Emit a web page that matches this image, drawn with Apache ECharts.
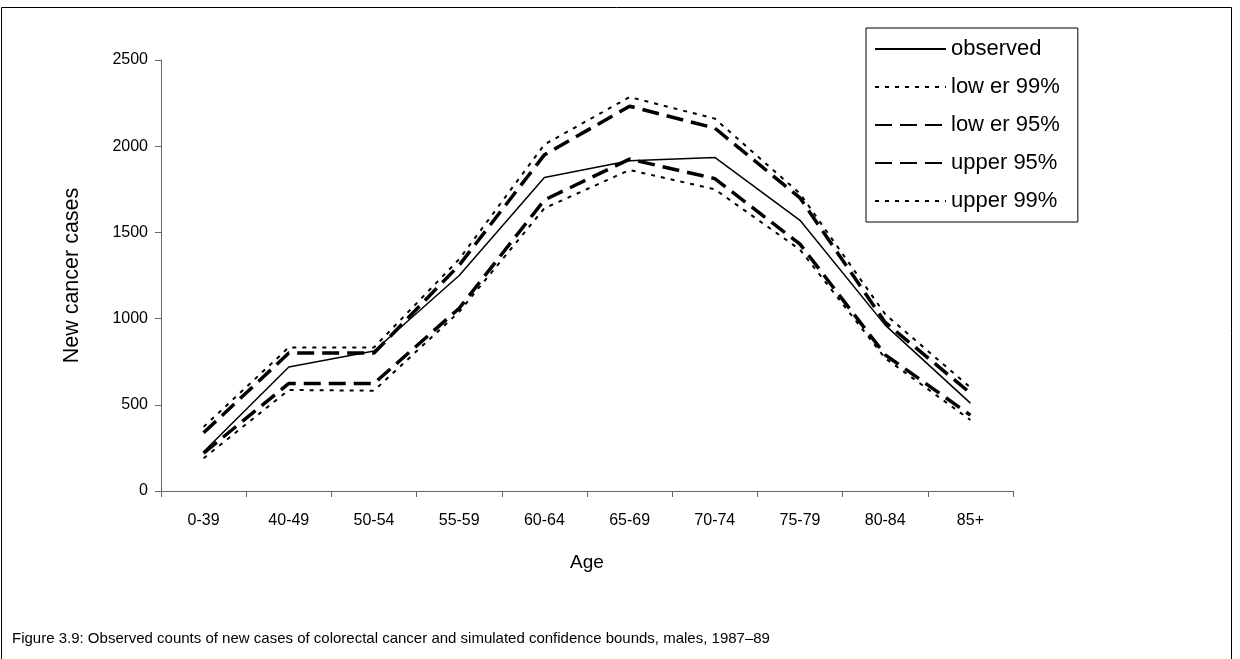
<!DOCTYPE html>
<html>
<head>
<meta charset="utf-8">
<script src="https://cdn.jsdelivr.net/npm/echarts@6/dist/echarts.min.js"></script>
<style>
html,body{margin:0;padding:0;background:#fff;}
#chart{width:1240px;height:659px;}
</style>
</head>
<body>
<div id="chart"></div>
<script>
var categories = ['0-39','40-49','50-54','55-59','60-64','65-69','70-74','75-79','80-84','85+'];
var observed = [228, 719, 812, 1250, 1818, 1915, 1935, 1570, 962, 510];
var lower99  = [190, 586, 582, 1040, 1640, 1862, 1750, 1400, 770, 412];
var lower95  = [220, 624, 624, 1060, 1688, 1925, 1812, 1432, 790, 440];
var upper95  = [338, 800, 800, 1310, 1950, 2232, 2105, 1700, 978, 568];
var upper99  = [372, 833, 833, 1345, 2010, 2285, 2160, 1725, 1025, 600];
var yTicks = [0, 500, 1000, 1500, 2000, 2500];
var seriesNames = ['observed', 'low er 99%', 'low er 95%', 'upper 95%', 'upper 99%'];

var FONT = '"Liberation Sans", Arial, sans-serif';
var chart = echarts.init(document.getElementById('chart'), null, {renderer:'canvas'});

function mk(name, data, width, dash) {
  return {
    name: name, type: 'line', data: data, symbol: 'none', animation: false,
    itemStyle: {color: '#000'},
    lineStyle: {color: '#000', width: width, type: dash || 'solid', cap: 'butt'}
  };
}

chart.setOption({
  backgroundColor: '#fff',
  animation: false,
  textStyle: {fontFamily: FONT},
  graphic: [
    {type: 'rect', shape: {x: 1.5, y: 7.5, width: 1230, height: 700}, style: {fill: 'none', stroke: '#000', lineWidth: 1}, z: -10, silent: true},
    {type: 'text', x: 12, y: 639, style: {text: 'Figure 3.9: Observed counts of new cases of colorectal cancer and simulated confidence bounds, males, 1987\u201389', fill: '#000', font: '15px ' + FONT, verticalAlign: 'middle', align: 'left'}}
  ],
  grid: {left: 161, right: 227, top: 60, bottom: 168, containLabel: false},
  legend: {
    orient: 'vertical', left: 866, top: 28,
    padding: [10, 18, 10, 8],
    itemWidth: 71, itemHeight: 14, itemGap: 16,
    backgroundColor: '#fff', borderColor: '#000', borderWidth: 1, borderRadius: 0,
    itemStyle: {opacity: 0},
    textStyle: {fontSize: 22, lineHeight: 22, color: '#000', fontFamily: FONT},
    data: seriesNames
  },
  xAxis: {
    type: 'category', data: categories, boundaryGap: true,
    axisLine: {lineStyle: {color: '#666', width: 1}},
    axisTick: {show: true, length: 6, inside: false, lineStyle: {color: '#666'}},
    axisLabel: {fontSize: 16, color: '#000', margin: 22, interval: 0, fontFamily: FONT},
    name: 'Age', nameLocation: 'middle', nameGap: 62,
    nameTextStyle: {fontSize: 19, color: '#000', fontFamily: FONT},
    splitLine: {show: false}
  },
  yAxis: {
    type: 'value', min: 0, max: 2500, interval: 500,
    axisLine: {show: true, lineStyle: {color: '#666', width: 1}},
    axisTick: {show: true, length: 6, lineStyle: {color: '#666'}},
    axisLabel: {fontSize: 16, color: '#000', margin: 13, fontFamily: FONT,
      formatter: function(v){ return yTicks.indexOf(v) >= 0 ? String(v) : ''; }},
    name: 'New cancer cases', nameLocation: 'middle', nameGap: 78, nameRotate: 90,
    nameTextStyle: {fontSize: 21.5, color: '#000', fontFamily: FONT},
    splitLine: {show: false}
  },
  series: [
    mk(seriesNames[0], observed, 1.5),
    mk(seriesNames[1], lower99, 2, [4, 6]),
    mk(seriesNames[2], lower95, 3.5, [17, 8]),
    mk(seriesNames[3], upper95, 3.5, [17, 8]),
    mk(seriesNames[4], upper99, 2, [4, 6])
  ]
});
</script>
</body>
</html>
